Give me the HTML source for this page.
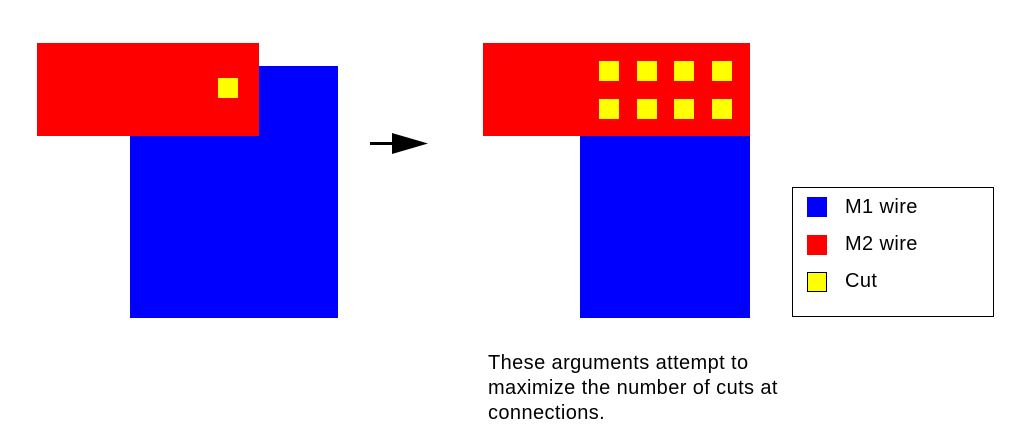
<!DOCTYPE html>
<html><head><style>
body{margin:0;width:1013px;height:448px;background:#fff;position:relative;overflow:hidden;font-family:"Liberation Sans",sans-serif;}
.r{position:absolute}
.t{position:absolute;font-size:20px;letter-spacing:0.4px;color:#000;white-space:nowrap}
</style></head><body>
<div class="r" style="left:130px;top:66px;width:208px;height:252px;background:#00f"></div>
<div class="r" style="left:37px;top:43px;width:222px;height:93px;background:#f00"></div>
<div class="r" style="left:218px;top:78px;width:20px;height:20px;background:#ff0"></div>
<svg class="r" style="left:0;top:0" width="1013" height="448">
<line x1="370" y1="143.5" x2="395" y2="143.5" stroke="#000" stroke-width="3"/>
<polygon points="392,133 428,143.5 392,154" fill="#000"/>
</svg>
<div class="r" style="left:580px;top:136px;width:170px;height:182px;background:#00f"></div>
<div class="r" style="left:483px;top:43px;width:267px;height:93px;background:#f00"></div>
<div class="r" style="left:599px;top:61px;width:20px;height:20px;background:#ff0"></div>
<div class="r" style="left:637px;top:61px;width:20px;height:20px;background:#ff0"></div>
<div class="r" style="left:674px;top:61px;width:20px;height:20px;background:#ff0"></div>
<div class="r" style="left:712px;top:61px;width:20px;height:20px;background:#ff0"></div>
<div class="r" style="left:599px;top:99px;width:20px;height:20px;background:#ff0"></div>
<div class="r" style="left:637px;top:99px;width:20px;height:20px;background:#ff0"></div>
<div class="r" style="left:674px;top:99px;width:20px;height:20px;background:#ff0"></div>
<div class="r" style="left:712px;top:99px;width:20px;height:20px;background:#ff0"></div>
<div class="r" style="left:792px;top:187px;width:200px;height:128px;border:1px solid #000"></div>
<div class="r" style="left:807px;top:197px;width:20px;height:20px;background:#00f"></div>
<div class="r" style="left:807px;top:235px;width:20px;height:20px;background:#f00"></div>
<div class="r" style="left:807px;top:272px;width:18px;height:18px;background:#ff0;border:1px solid #000"></div>
<div class="t" style="left:845px;top:196px">M1 wire</div>
<div class="t" style="left:845px;top:233px">M2 wire</div>
<div class="t" style="left:845px;top:270px">Cut</div>
<div class="t" style="left:488px;top:351px;line-height:25px">These arguments attempt to<br>maximize the number of cuts at<br>connections.</div>
</body></html>
